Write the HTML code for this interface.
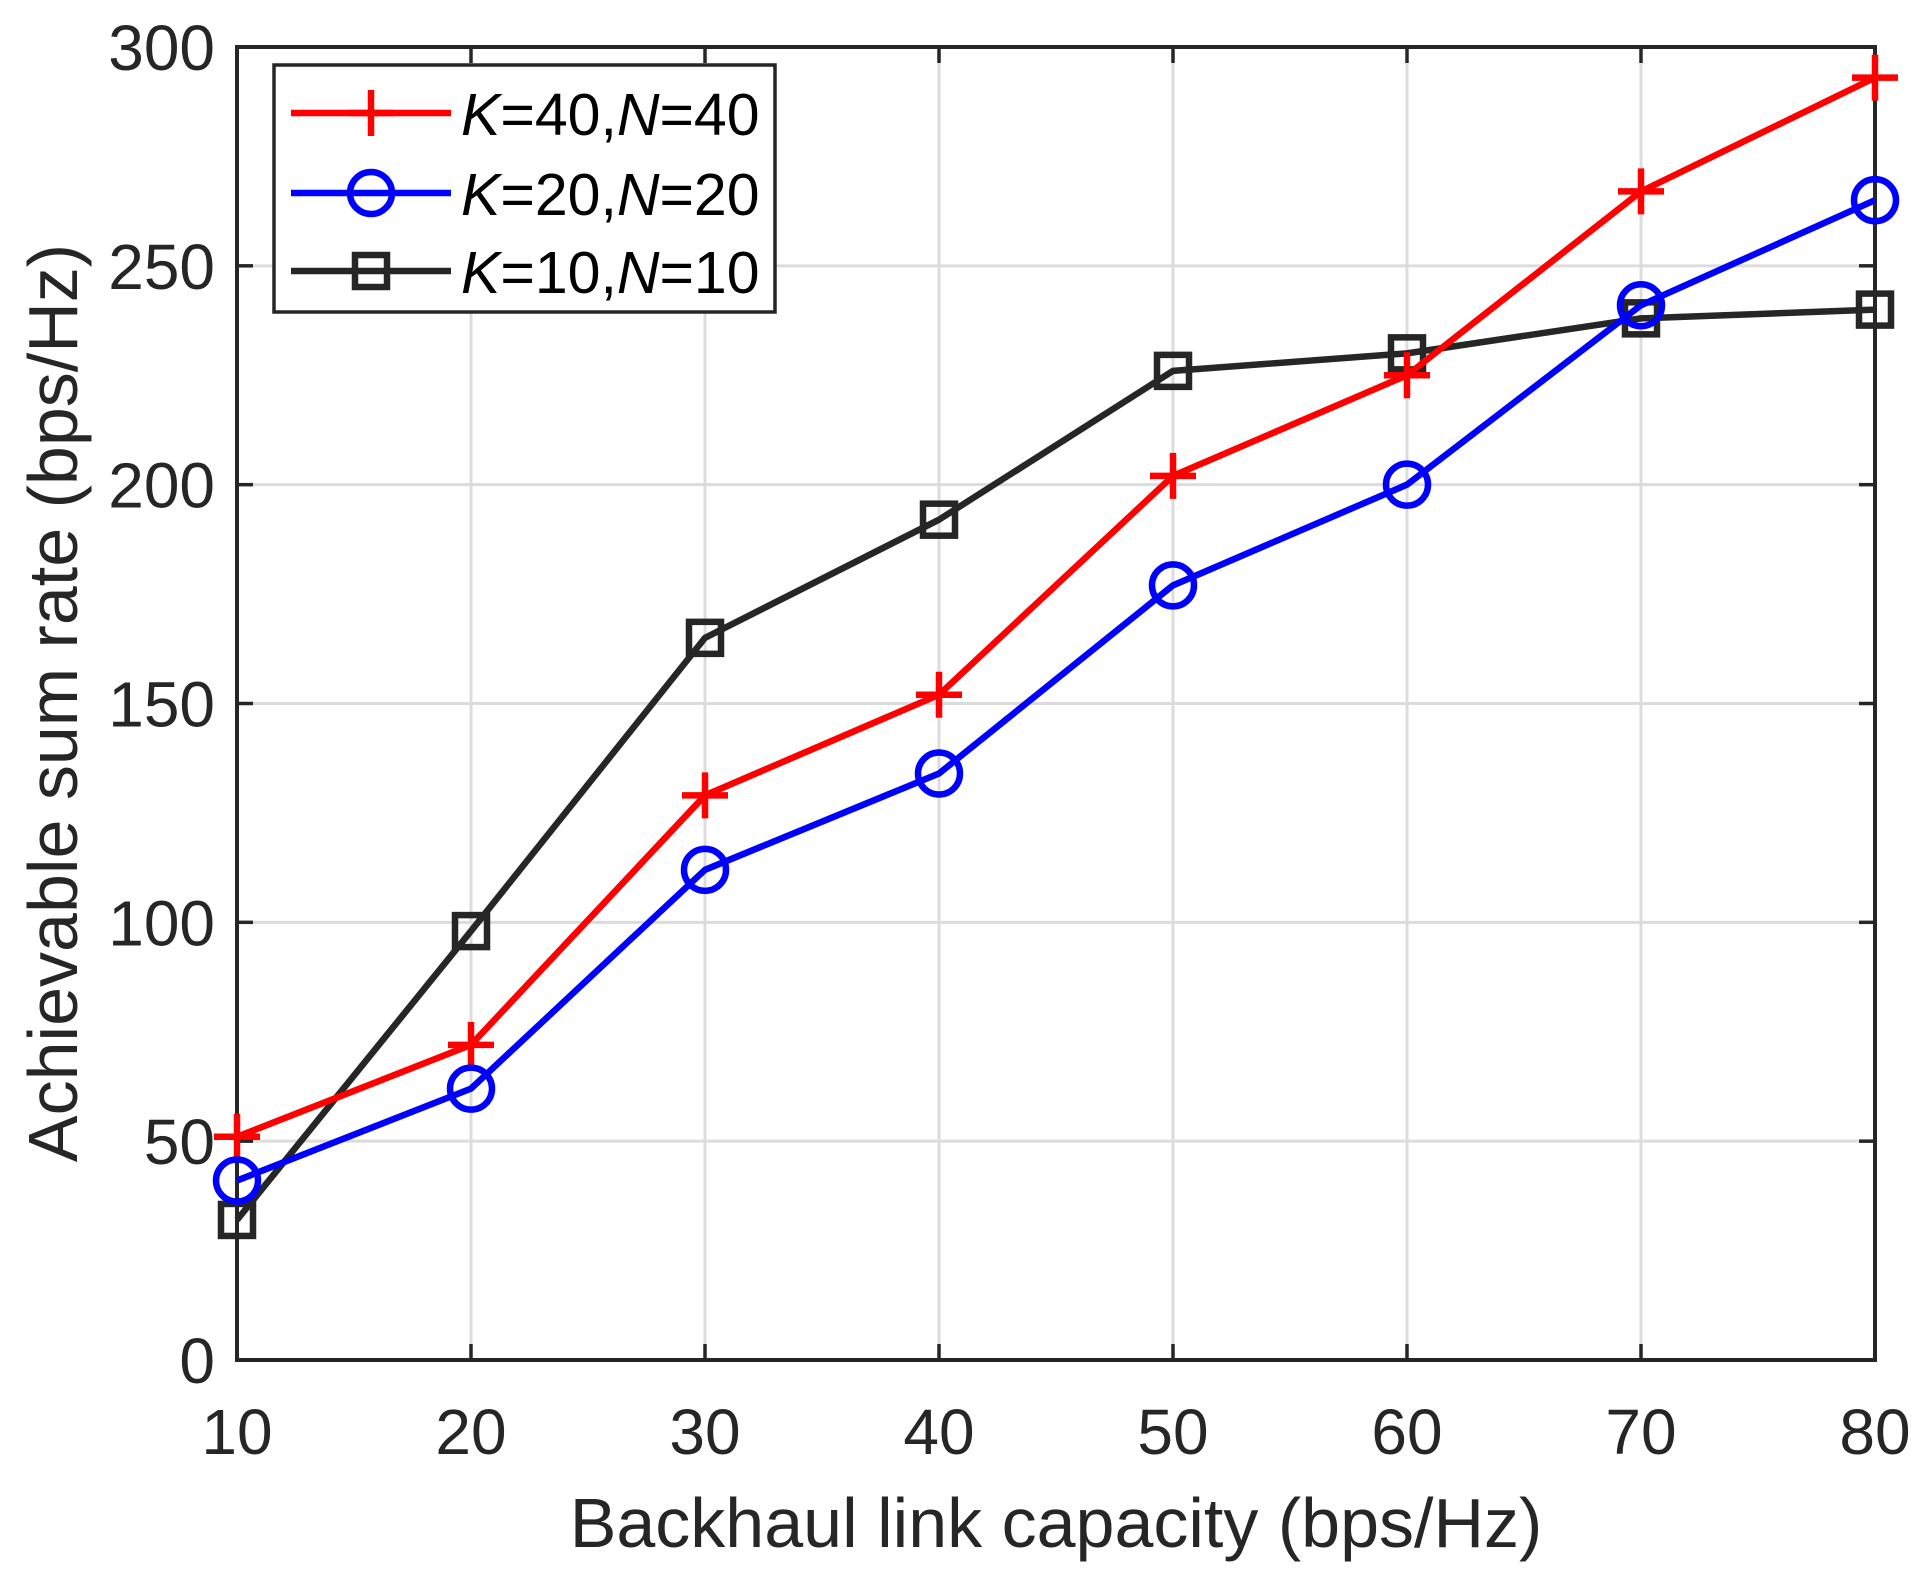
<!DOCTYPE html>
<html><head><meta charset="utf-8"><style>html,body{margin:0;padding:0;background:#fff}svg{display:block}</style></head>
<body>
<svg id="c" width="1928" height="1579" xmlns="http://www.w3.org/2000/svg" font-family="Liberation Sans, sans-serif"></svg>
<script>
const L=237,R=1875,T=47,B=1360;
const X=v=>L+(v-10)*(R-L)/70, Y=v=>B-v*(B-T)/300;
let s='';
for(let i=1;i<7;i++){s+=`<line x1="${X(10+i*10)}" y1="${T}" x2="${X(10+i*10)}" y2="${B}" stroke="#dcdcdc" stroke-width="3"/>`;}
for(let i=1;i<6;i++){s+=`<line x1="${L}" y1="${Y(i*50)}" x2="${R}" y2="${Y(i*50)}" stroke="#dcdcdc" stroke-width="3"/>`;}
for(let i=0;i<8;i++){const x=X(10+i*10);s+=`<line x1="${x}" y1="${B}" x2="${x}" y2="${B-16}" stroke="#262626" stroke-width="3.5"/><line x1="${x}" y1="${T}" x2="${x}" y2="${T+16}" stroke="#262626" stroke-width="3.5"/>`;
s+=`<text x="${x}" y="1454" font-size="64" text-anchor="middle" fill="#262626">${10+i*10}</text>`;}
for(let i=0;i<7;i++){const y=Y(i*50);s+=`<line x1="${L}" y1="${y}" x2="${L+16}" y2="${y}" stroke="#262626" stroke-width="3.5"/><line x1="${R}" y1="${y}" x2="${R-16}" y2="${y}" stroke="#262626" stroke-width="3.5"/>`;
s+=`<text x="215" y="${y+23}" font-size="64" text-anchor="end" fill="#262626">${i*50}</text>`;}
s+=`<rect x="${L}" y="${T}" width="${R-L}" height="${B-T}" fill="none" stroke="#262626" stroke-width="4"/>`;
const xs=[10,20,30,40,50,60,70,80];
const red=[51,72,129,152,202,225,267,293],blue=[41,62,112,134,177,200,241,265],blk=[32,98,165,192,226,230,238,240];
const W=6.5;
function line(d,c){return `<polyline fill="none" stroke="${c}" stroke-width="${W}" stroke-linejoin="round" points="${d.map((v,i)=>X(xs[i])+','+Y(v)).join(' ')}"/>`;}
const plus=(x,y)=>`<path d="M${x-23} ${y}H${x+23}M${x} ${y-23}V${y+23}" stroke="#ff0000" stroke-width="${W}"/>`;
const circ=(x,y)=>`<circle cx="${x}" cy="${y}" r="21" fill="none" stroke="#0000ff" stroke-width="${W}"/>`;
const sq=(x,y)=>`<rect x="${x-16}" y="${y-16}" width="32" height="32" fill="none" stroke="#262626" stroke-width="${W}"/>`;
s+=line(blk,'#262626')+blk.map((v,i)=>sq(X(xs[i]),Y(v))).join('');
s+=line(red,'#ff0000')+red.map((v,i)=>plus(X(xs[i]),Y(v))).join('');
s+=line(blue,'#0000ff')+blue.map((v,i)=>circ(X(xs[i]),Y(v))).join('');
s+=`<rect x="274" y="65" width="501" height="247" fill="#fff" stroke="#262626" stroke-width="3.5"/>`;
const ent=[[113,'#ff0000',plus,'40'],[193,'#0000ff',circ,'20'],[271,'#262626',sq,'10']];
for(const [y,c,m,n] of ent){s+=`<line x1="291" y1="${y}" x2="451" y2="${y}" stroke="${c}" stroke-width="${W}"/>`+m(371,y);
s+=`<text x="461" y="${y+22}" font-size="59" fill="#000"><tspan font-style="italic">K</tspan>=${n},<tspan font-style="italic">N</tspan>=${n}</text>`;}
s+=`<text x="1056" y="1547" font-size="70" text-anchor="middle" fill="#262626">Backhaul link capacity (bps/Hz)</text>`;
s+=`<text transform="translate(77,703) rotate(-90)" font-size="70" text-anchor="middle" fill="#262626">Achievable sum rate (bps/Hz)</text>`;
document.getElementById('c').innerHTML=s;
</script>
</body></html>
